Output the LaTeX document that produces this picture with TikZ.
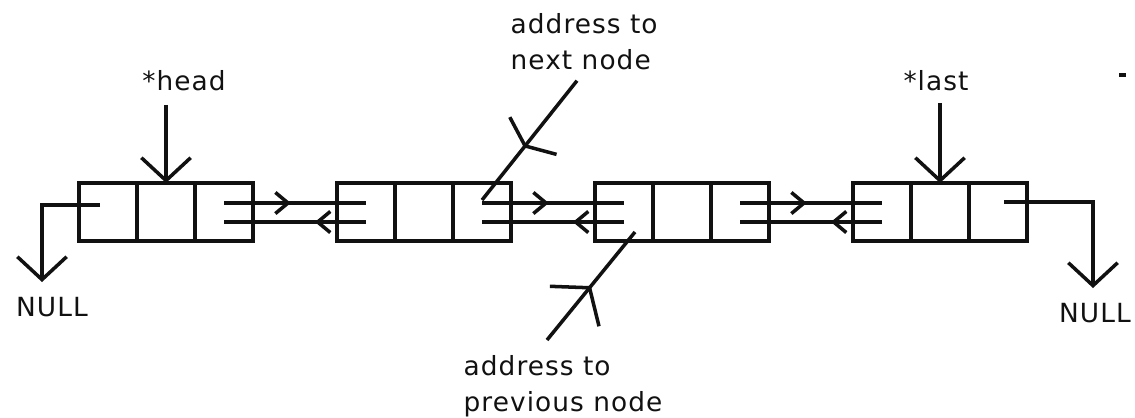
\documentclass[tikz,border=0pt]{standalone}
\usepackage{fontspec}
\usepackage{tikz}
\usetikzlibrary{calc,arrows.meta,positioning,decorations.markings}
\newfontfamily\lblfont{DejaVu Sans}[LetterSpace=4.0]
\definecolor{ink}{HTML}{111111}
\tikzset{
  cell/.style={draw=ink,line width=1.2pt,minimum width=0.58cm,minimum height=0.58cm,inner sep=0pt,outer sep=0pt},
  lbl/.style={font=\lblfont\fontsize{7.5}{10.2}\selectfont,text=ink,inner sep=0pt,align=left},
  ptr/.style={-{Straight Barb[length=6.5pt,width=14pt]},line width=1pt,ink},
  link/.style={line width=1pt,ink,postaction={decorate},
    decoration={markings,mark=at position #1 with {\arrow{Straight Barb[length=3.6pt,width=6pt]}}}},
  tag/.style 2 args={line width=1pt,ink,postaction={decorate},
    decoration={markings,mark=at position #1 with {\arrow{Straight Barb[#2]}}}}
}
\begin{document}
\begin{tikzpicture}[x=0.01cm,y=-0.01cm]
\useasboundingbox (0,0) rectangle (1135,417);
\foreach \i in {1,...,4}{
  \node[cell] (prev\i) at ({258*\i-150},212) {};
  \node[cell,right=0pt of prev\i] (data\i) {};
  \node[cell,right=0pt of data\i] (next\i) {};
}
\foreach \i/\j in {1/2,2/3,3/4}{
  \draw[link=0.47] ($(next\i.center)+(0,-9)$) -- ($(prev\j.center)+(0,-9)$);
  \draw[link=0.36] ($(prev\j.center)+(0,10)$) -- ($(next\i.center)+(0,10)$);
}
\node[lbl,anchor=north] (headlbl) at (184,70) {*head};
\node[lbl,anchor=north] (lastlbl) at (936,70) {*last};
\draw[ptr] ([yshift=0.78cm]data1.north) -- (data1.north);
\draw[ptr] ([yshift=0.8cm]data4.north) -- (data4.north);
\node[lbl,anchor=north] (nullL) at (52,297) {NULL};
\node[lbl,anchor=north] (nullR) at (1095,303) {NULL};
\draw[ptr] ($(prev1.center)+(-8,-7)$) -| ($(nullL.north)+(-10,-15)$);
\draw[ptr] ($(next4.center)+(6,-10)$) -| ($(nullR.north)+(-2,-15)$);
\node[lbl,anchor=north west] (nextlbl) at (510,13) {address to\\next node};
\node[lbl,anchor=north west] (prevlbl) at (463,355) {address to\\previous node};
\draw[tag={0.56}{length=3.7pt,width=17pt}] ($(nextlbl.south west)+(67,10)$) -- ($(next2.center)+(0,-12)$);
\draw[tag={0.5}{length=6.8pt,width=18pt}] ($(prevlbl.north west)+(84,-15)$) -- ($(prev3.center)+(11,20)$);
\fill[ink] (1119,73) rectangle (1126,77);
\end{tikzpicture}
\end{document}
